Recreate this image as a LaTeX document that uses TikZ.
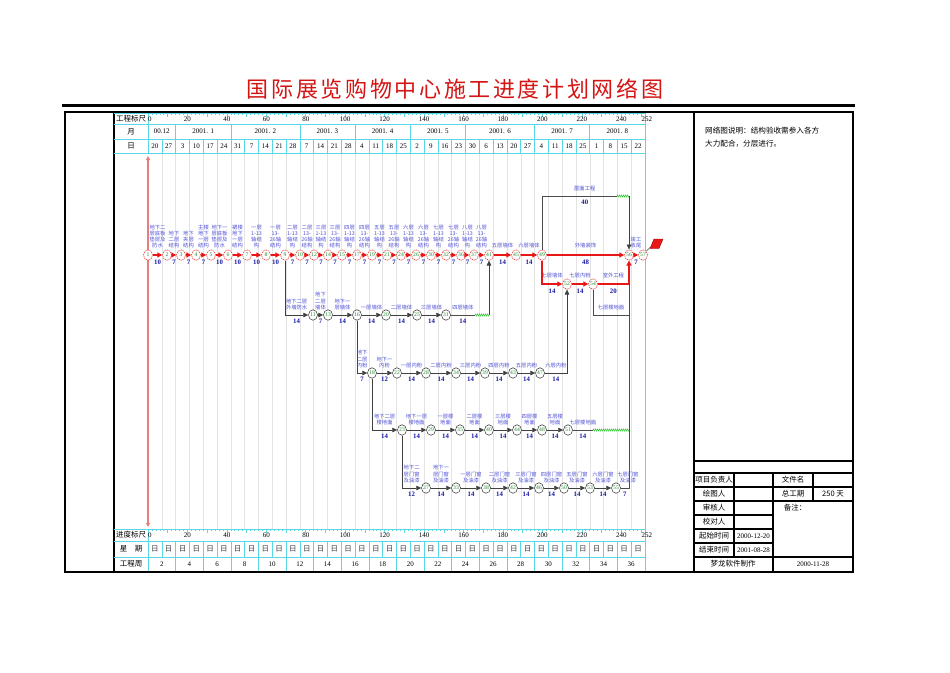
\documentclass[tikz,border=0pt]{standalone}
\usepackage{fontspec}
\setmainfont{Liberation Serif}
\newfontfamily\cjk{Noto Sans CJK SC}
\newfontfamily\cjktitle[LetterSpace=12]{Noto Sans CJK SC}
\usetikzlibrary{shapes.geometric,arrows.meta,decorations.pathmorphing,positioning}
\definecolor{gridcyan}{RGB}{90,215,228}
\definecolor{lblblue}{RGB}{80,80,215}
\definecolor{durblue}{RGB}{25,25,165}
\definecolor{evgreen}{RGB}{30,135,40}
\definecolor{critred}{RGB}{232,22,22}
\definecolor{axisred}{RGB}{232,125,125}
\definecolor{floatgreen}{RGB}{60,200,60}

\begin{document}
\begin{tikzpicture}[x=1pt,y=-1pt,
  task/.style={font=\cjk\fontsize{5.3}{6.2}\selectfont,text=lblblue,align=center,inner sep=0pt},
  dur/.style={font=\fontsize{6.8}{6.8}\selectfont\bfseries,text=durblue,inner sep=0pt},
  evc/.style={ellipse,draw=critred,dash pattern=on 1.2pt off 0.8pt,line width=0.5pt,minimum width=9pt,minimum height=10.5pt,inner sep=0pt,text=evgreen,font=\fontsize{5.6}{5.6}\selectfont,fill=white},
  evn/.style={evc,draw=black!80,solid},
  crit/.style={draw=critred,line width=1.3pt,-{Triangle[length=5pt,width=5pt]}},
  work/.style={draw=black!75,line width=0.6pt,-{Triangle[length=5pt,width=4.5pt]}},
  link/.style={draw=black!70,line width=0.6pt},
  slack/.style={draw=floatgreen,line width=0.6pt,decorate,decoration={zigzag,segment length=2pt,amplitude=1pt}},
  cell/.style={font=\fontsize{7}{7}\selectfont,inner sep=0pt},
  hcell/.style={font=\cjk\fontsize{7.5}{7.5}\selectfont,inner sep=0pt},
  note/.style={font=\cjk\fontsize{7.5}{7.5}\selectfont,inner sep=0pt},
]
\fill[white] (0,0) rectangle (950,672);
\useasboundingbox (0,0) rectangle (950,672);

% title and frame
\node[font=\cjktitle\fontsize{22}{22}\selectfont,text=critred!92!black] (title) at (455,89) {国际展览购物中心施工进度计划网络图};
\draw[line width=2.2pt] (62,105.5) -- (855,105.5);
\draw[line width=2pt] (65,112) rectangle (853,572);
\draw[line width=1.8pt] (114,112) -- (114,572);
\draw[line width=1.8pt] (694,112) -- (694,572);

% time scale, 1 day = 1.972px
\begin{scope}[shift={(148,0)},x=1.972pt]
  \foreach \k in {1,...,35}
    \draw[gray!22,line width=0.4pt] (7*\k,153) -- (7*\k,529);
  \begin{scope}[gridcyan,line width=0.6pt]
    \draw (0,113) -- (0,153) (0,529) -- (0,571) (252,113) -- (252,571);
    \foreach \k in {1,...,35}
      \draw (7*\k,139) -- (7*\k,153) (7*\k,541) -- (7*\k,557);
    \foreach \k in {2,6,11,15,19,23,28,32}
      \draw (7*\k,124) -- (7*\k,139);
    \foreach \k in {2,4,...,34}
      \draw (7*\k,557) -- (7*\k,571);
    \foreach \t in {0,2,...,252}
      \draw (\t,113) -- (\t,115) (\t,529) -- (\t,531);
    \foreach \t in {0,10,...,250}
      \draw (\t,113) -- (\t,117) (\t,529) -- (\t,533);
  \end{scope}
  \foreach \t in {20,40,...,240} {
    \node[cell] at (\t,119) {\t};
    \node[cell] at (\t,535.5) {\t};
  }
  \node[cell,anchor=west] at (0,119) {0};
  \node[cell,anchor=west] at (0,535.5) {0};
  \node[cell] at (253,119) {252};
  \node[cell] at (253,535.5) {252};
  \foreach \a/\b/\m in {0/2/00.12,2/6/2001. 1,6/11/2001. 2,11/15/2001. 3,15/19/2001. 4,
                        19/23/2001. 5,23/28/2001. 6,28/32/2001. 7,32/36/2001. 8}
    \node[cell] at ({3.5*(\a+\b)},131.5) {\m};
  \foreach \d [count=\k from 0] in {20,27,3,10,17,24,31,7,14,21,28,7,14,21,28,4,11,18,25,
                                    2,9,16,23,30,6,13,20,27,4,11,18,25,1,8,15,22}
    \node[cell] at ({7*\k+3.5},146) {\d};
  \foreach \k in {0,...,35}
    \node[hcell,text=black!75] at ({7*\k+3.5},549) {日};
  \foreach \w in {2,4,...,36}
    \node[cell] at ({7*\w-7},564) {\w};
  \draw[axisred,line width=1.6pt,{Triangle[length=4pt,width=4pt]}-{Triangle[length=4pt,width=4pt]}] (0,156) -- (0,527);
\end{scope}
\foreach \y in {124,139,153,529,541,557}
  \draw[gridcyan,line width=0.6pt] (114,\y) -- (645,\y);
\draw[gridcyan,line width=0.6pt] (114,113) -- (645,113);
\node[hcell] at (131,118.5) {工程标尺};
\node[hcell] at (131,131.5) {月};
\node[hcell] at (131,146) {日};
\node[hcell] at (131,535) {进度标尺};
\node[hcell] at (131,549) {星\quad 期};
\node[hcell] at (131,564) {工程周};

% main line (critical)
\foreach \n/\x in {1/148,2/167,3/181,4/196,5/211,6/228,7/247,8/266,9/285,10/300,12/314,
                   14/328,15/342,17/357,19/372,21/387,24/401,26/416,30/431,32/446,36/461,
                   37/474,41/489,45/516,49/542,56/629,57/643}
  \node[evc] (n\n) at (\x,255) {\n};
\foreach \a/\b/\l/\d in {1/2/{地下二\\层底板\\垫层及\\防水}/10,2/3/{地下\\二层\\结构}/7,
    3/4/{地下\\夹层\\结构}/7,4/5/{主楼\\地下\\一层\\结构}/7,5/6/{地下一\\层底板\\垫层及\\防水}/10,
    6/7/{裙楼\\地下\\一层\\结构}/10,7/8/{一层\\1-13\\轴结\\构}/10,8/9/{一层\\13-\\26轴\\结构}/10,
    9/10/{二层\\1-13\\轴结\\构}/7,10/12/{二层\\13-\\26轴\\结构}/7,12/14/{三层\\1-13\\轴结\\构}/7,
    14/15/{三层\\13-\\26轴\\结构}/7,15/17/{四层\\1-13\\轴结\\构}/7,17/19/{四层\\13-\\26轴\\结构}/7,
    19/21/{五层\\1-13\\轴结\\构}/7,21/24/{五层\\13-\\26轴\\结构}/7,24/26/{六层\\1-13\\轴结\\构}/7,
    26/30/{六层\\13-\\26轴\\结构}/7,30/32/{七层\\1-13\\轴结\\构}/7,32/36/{七层\\13-\\26轴\\结构}/7,
    36/37/{八层\\1-13\\轴结\\构}/7,37/41/{八层\\13-\\26轴\\结构}/7,41/45/{五层墙体}/14,
    45/49/{六层墙体}/14,49/56/{外墙装饰}/48,56/57/{竣工\\收尾}/7}
  \draw[crit] (n\a) -- node[task,above=6pt] {\l} node[dur,below=4pt] {\d} (n\b);

% red branch 49-52-54-56
\node[evc] (n52) at (567,284) {52};
\node[evc] (n54) at (593,284) {54};
\draw[crit] (n49) |- node[pos=0.75,task,above=5pt] {七层墙体} node[pos=0.75,dur,below=4pt] {14} (n52);
\draw[crit] (n52) -- node[task,above=5pt] {七层内粉} node[dur,below=4pt] {14} (n54);
\draw[crit] (n54) -| node[pos=0.25,task,above=5pt] {室外工程} node[pos=0.25,dur,below=4pt] {20} (n56);

% roof
\coordinate (roofA) at (542,196);
\coordinate (roofB) at (617,196);
\coordinate (roofC) at (629,196);
\draw[link] (n49) -- (roofA) -- node[task,above=5pt,pos=0.57] {屋面工程} node[dur,below=4pt,pos=0.57] {40} (roofB);
\draw[slack] (roofB) -- (roofC);
\draw[work] (roofC) -- (n56);

% flag
\draw[black!70,line width=0.5pt] (n57.north east) -- (650,247.5);
\filldraw[fill=critred,draw=critred!60!black,line width=0.4pt] (650,248.5) -- (654,239) -- (663,239) -- (659,248.5) -- cycle;

% row of walls
\foreach \n/\x in {11/313,13/328,16/357,20/386,25/417,31/446}
  \node[evn] (n\n) at (\x,315) {\n};
\draw[work] (n9) |- node[pos=0.75,task,above=5pt] {地下二层\\外墙防水} node[pos=0.75,dur,below=4pt] {14} (n11);
\foreach \a/\b/\l/\d in {11/13/{地下\\二层\\墙体}/7,13/16/{地下一\\层墙体}/14,16/20/{一层墙体}/14,
    20/25/{二层墙体}/14,25/31/{三层墙体}/14}
  \draw[work] (n\a) -- node[task,above=5pt] {\l} node[dur,below=4pt] {\d} (n\b);
\coordinate (wallA) at (475,315);
\coordinate (wallB) at (489,315);
\draw[link] (n31) -- node[task,above=5pt] {四层墙体} node[dur,below=4pt] {14} (wallA);
\draw[slack] (wallA) -- (wallB);
\draw[work] (wallB) -- (n41);

% row of plastering
\foreach \n/\x in {18/372,22/397,28/426,34/456,39/485,43/513,47/540}
  \node[evn] (n\n) at (\x,373) {\n};
\draw[work] (n16) |- node[pos=0.75,task,above=5pt] {地下\\二层\\内粉} node[pos=0.75,dur,below=4pt] {7} (n18);
\foreach \a/\b/\l/\d in {18/22/{地下一\\内粉}/12,22/28/{一层内粉}/14,28/34/{二层内粉}/14,
    34/39/{三层内粉}/14,39/43/{四层内粉}/14,43/47/{五层内粉}/14}
  \draw[work] (n\a) -- node[task,above=5pt] {\l} node[dur,below=4pt] {\d} (n\b);
\draw[work] (n47) -| node[pos=0.25,task,above=5pt] {六层内粉} node[pos=0.25,dur,below=4pt] {14} (n52);

% row of floors
\foreach \n/\x in {23/402,29/431,35/460,40/489,44/517,48/542,51/568}
  \node[evn] (n\n) at (\x,430) {\n};
\draw[work] (n18) |- node[pos=0.75,task,above=5pt] {地下二层\\楼地面} node[pos=0.75,dur,below=4pt] {14} (n23);
\foreach \a/\b/\l/\d in {23/29/{地下一层\\楼地面}/14,29/35/{一层楼\\地面}/14,35/40/{二层楼\\地面}/14,
    40/44/{三层楼\\地面}/14,44/48/{四层楼\\地面}/14,48/51/{五层楼\\地面}/14}
  \draw[work] (n\a) -- node[task,above=5pt] {\l} node[dur,below=4pt] {\d} (n\b);
\coordinate (floorA) at (593,430);
\coordinate (floorB) at (629,430);
\draw[link] (n51) -- node[task,above=5pt] {七层楼地面} node[dur,below=4pt] {14} (floorA);
\draw[slack] (floorA) -- (floorB);

% branch below 54
\coordinate (topF) at (629,315);
\draw[link] (n54) |- node[pos=0.75,task,above=5pt] {七层楼地面} (topF);

% row of windows
\foreach \n/\x in {27/426,33/456,38/486,42/513,46/539,50/564,53/590,55/616}
  \node[evn] (n\n) at (\x,488) {\n};
\draw[work] (n23) |- node[pos=0.75,task,above=5pt] {地下二\\层门窗\\及油漆} node[pos=0.75,dur,below=4pt] {12} (n27);
\foreach \a/\b/\l/\d in {27/33/{地下一\\层门窗\\及油漆}/14,33/38/{一层门窗\\及油漆}/14,
    38/42/{二层门窗\\及油漆}/14,42/46/{三层门窗\\及油漆}/14,46/50/{四层门窗\\及油漆}/14,
    50/53/{五层门窗\\及油漆}/14,53/55/{六层门窗\\及油漆}/14}
  \draw[work] (n\a) -- node[task,above=5pt] {\l} node[dur,below=4pt] {\d} (n\b);
\coordinate (winA) at (629,488);
\draw[link] (n55) -- node[task,above=5pt,xshift=3pt] {七层门窗\\及油漆} node[dur,below=4pt] {7} (winA) -- (n56 |- n54);

% right panel
\node[note,anchor=north west,align=left,font=\cjk\fontsize{7.6}{13}\selectfont] (remark) at (705,127)
  {网络图说明：结构验收需参入各方\\大力配合，分层进行。};
\begin{scope}[line width=1.3pt]
  \draw (694,461) -- (853,461) (694,473) -- (853,473);
  \draw (694,487) -- (853,487) (694,501) -- (853,501) (694,557) -- (853,557);
  \foreach \y in {515,529,543} \draw (694,\y) -- (773,\y);
  \draw (734,473) -- (734,557) (773,473) -- (773,572) (813,473) -- (813,501);
\end{scope}
\node[note] at (714,480) {项目负责人};
\node[note] at (793,480) {文件名};
\node[note] at (714,494) {绘图人};
\node[note] at (793,494) {总工期};
\node[note] at (833,494) {250 天};
\node[note] at (714,508) {审核人};
\node[note] at (795,508) {备注：};
\node[note] at (714,522) {校对人};
\node[note] at (714,536) {起始时间};
\node[cell] at (753.5,536) {2000-12-20};
\node[note] at (714,550) {结束时间};
\node[cell] at (753.5,550) {2001-08-28};
\node[note] at (733,564) {梦龙软件制作};
\node[cell] at (813,564) {2000-11-28};
\end{tikzpicture}
\end{document}
